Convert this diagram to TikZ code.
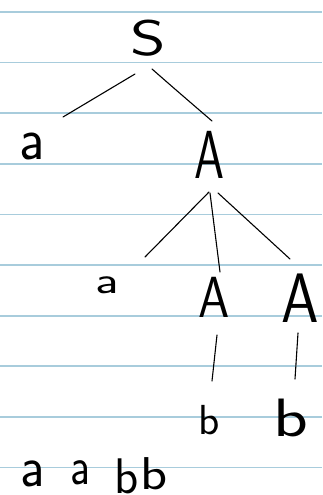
\documentclass[tikz,border=0pt]{standalone}
\usetikzlibrary{calc}
\definecolor{rule}{RGB}{168,204,220}
\begin{document}
\begin{tikzpicture}[x=1pt,y=-1pt,
  sym/.style={inner sep=0pt,font=\sffamily\fontsize{40}{40}\selectfont},
  branch/.style={line width=1.1pt,black,line cap=round},
  ruling/.style={line width=1.8pt,rule}]
\useasboundingbox (0,0) rectangle (322,495);
\fill[white] (0,0) rectangle (322,495);
\foreach \y in {12,62.6,113.2,163.8,214.4,265,315.6,366.2,416.8,467.4}
  \draw[ruling] (0,\y) -- (322,\y);
\node[sym] (S) at (148,38) {\scalebox{1.7}[1.25]{S}};
\node[sym] (a1) at (32,146) {\scalebox{1.4}[1.5]{a}};
\node[sym] (A1) at (209,155) {\scalebox{1.2}[1.7]{A}};
\node[sym] (a2) at (107,285) {\scalebox{1.3}[0.95]{a}};
\node[sym] (A2) at (214,297) {\scalebox{1.25}[1.45]{A}};
\node[sym] (A3) at (300,298) {\scalebox{1.5}[1.75]{A}};
\node[sym] (b1) at (209,420) {\scalebox{1.1}[1.05]{b}};
\node[sym] (b2) at (291,418) {\scalebox{1.8}[1.35]{b}};
\node[sym] (w1) at (33,474) {\scalebox{1.35}[1.45]{a}};
\node[sym] (w2) at (80,473) {\scalebox{1.1}[1.35]{a}};
\node[sym] (w3) at (127,476) {\scalebox{1.25}[1.25]{b}};
\node[sym] (w4) at (154,474) {\scalebox{1.4}[1.15]{b}};
\draw[branch] ($(S)+(-13,36)$) -- ($(a1)+(31,-29)$);
\draw[branch] ($(S)+(4,31)$) .. controls ($(S)+(28,52)$) .. ($(A1)+(3,-34)$);
\draw[branch] ($(A1)+(0,37)$) -- ($(a2)+(38,-28)$);
\draw[branch] ($(A1)+(1,38)$) -- ($(A2)+(6,-25)$);
\draw[branch] ($(A1)+(9,38)$) -- ($(A3)+(-10,-39)$);
\draw[branch] ($(A2)+(3,38)$) -- ($(b1)+(3,-39)$);
\draw[branch] ($(A3)+(-2,35)$) -- ($(b2)+(4,-39)$);
\end{tikzpicture}
\end{document}
